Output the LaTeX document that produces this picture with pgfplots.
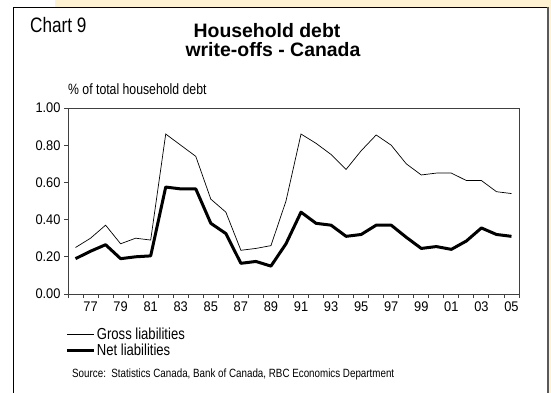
\documentclass[border=0pt]{standalone}
\usepackage{fontspec}
\setmainfont{Liberation Sans}[FakeStretch=0.82]
\newfontfamily\titlefont{Liberation Sans}[FakeStretch=1.0]
\newfontfamily\tickfont{Liberation Sans}[FakeStretch=0.92]
\usepackage{pgfplots}
\usepackage{pgfplotstable}
\pgfplotsset{compat=1.18}
\definecolor{bgyellow}{HTML}{FFF2D2}
\definecolor{axisgray}{HTML}{404040}
\pgfplotstableread{
idx gross net
0  0.25  0.19
1  0.30  0.23
2  0.37  0.265
3  0.27  0.19
4  0.30  0.20
5  0.29  0.205
6  0.86  0.575
7  0.80  0.565
8  0.74  0.565
9  0.51  0.38
10 0.44  0.325
11 0.235 0.165
12 0.245 0.175
13 0.26  0.15
14 0.50  0.27
15 0.86  0.44
16 0.81  0.38
17 0.75  0.37
18 0.67  0.31
19 0.77  0.32
20 0.855 0.37
21 0.80  0.37
22 0.70  0.305
23 0.64  0.245
24 0.65  0.255
25 0.65  0.24
26 0.61  0.285
27 0.61  0.355
28 0.55  0.32
29 0.54  0.31
}\debt
\begin{document}
\begin{tikzpicture}
\useasboundingbox (0bp,0bp) rectangle (551bp,393bp);
% background
\fill[white] (0bp,0bp) rectangle (551bp,393bp);
\fill[bgyellow] (55bp,386bp) rectangle (551bp,393bp);
\fill[bgyellow] (549bp,0bp) rectangle (551bp,393bp);
\draw[black,line width=1bp] (13.5bp,0bp) -- (13.5bp,385.5bp) -- (548bp,385.5bp);
\draw[gray!70!black,line width=1.6bp] (548bp,386bp) -- (548bp,0bp);
% texts
\node[anchor=base west,inner sep=0pt,font=\fontsize{21}{24}\selectfont] at (30bp,360bp) {Chart 9};
\node[anchor=base,inner sep=0pt,font=\titlefont\bfseries\fontsize{19.5}{22}\selectfont] at (267bp,355bp) {Household debt};
\node[anchor=base,inner sep=0pt,font=\titlefont\bfseries\fontsize{19.5}{22}\selectfont] at (273bp,336bp) {write-offs - Canada};
\node[anchor=base west,inner sep=0pt,font=\fontsize{15}{18}\selectfont] at (68bp,298bp) {\% of total household debt};
\node[anchor=base west,inner sep=0pt,font=\fontsize{12}{14}\selectfont] at (72bp,16bp) {Source:\ \ Statistics Canada, Bank of Canada, RBC Economics Department};
\begin{axis}[
  at={(68bp,99bp)}, anchor=south west,
  scale only axis, width=451bp, height=186bp,
  xmin=-0.5, xmax=29.5, ymin=0, ymax=1,
  axis line style={axisgray, line width=0.9bp},
  tick style={axisgray, line width=0.9bp},
  tick pos=left, tick align=outside,
  xtick={1,3,...,29},
  xticklabels={77,79,81,83,85,87,89,91,93,95,97,99,01,03,05},
  minor xtick={-0.5,0.5,...,29.5},
  major x tick style={draw=none},
  minor tick length=4bp, major tick length=4bp,
  ytick={0,0.2,...,1.0},
  yticklabel style={/pgf/number format/.cd, fixed, fixed zerofill, precision=2},
  /pgf/number format/assume math mode=true,
  ticklabel style={font=\tickfont\fontsize{14}{16}\selectfont},
  legend style={at={(axis description cs:-0.005,-0.175)}, anchor=north west,
    draw=none, fill=none, inner sep=0pt, row sep=1bp,
    font=\fontsize{16}{17}\selectfont,
    nodes={inner sep=1bp}},
  legend cell align=left,
  legend image code/.code={\draw[#1] (0bp,0bp) -- (27bp,0bp);},
]
\addplot[black, line width=0.7bp] table[x=idx,y=gross] {\debt};
\addlegendentry{Gross liabilities}
\addplot[black, line width=3bp, line join=round] table[x=idx,y=net] {\debt};
\addlegendentry{Net liabilities}
\end{axis}
\end{tikzpicture}
\end{document}
